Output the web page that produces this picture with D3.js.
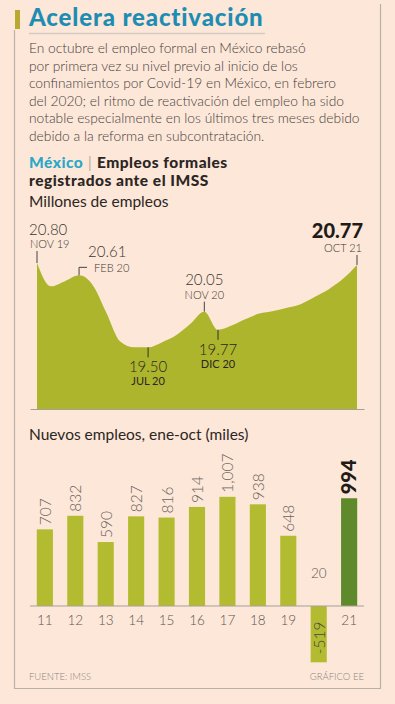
<!DOCTYPE html>
<html>
<head>
<meta charset="utf-8">
<script src="https://cdn.jsdelivr.net/npm/d3@7"></script>
<style>
  html, body { margin: 0; padding: 0; background: #fde7d8; }
  svg { display: block; font-family: Lato, 'Open Sans', sans-serif; }
</style>
</head>
<body>
<div id="chart"></div>
<script>
// empleo formal, millones (nov 2019 - oct 2021)
const months = ['2019-11', '2019-12', '2020-01', '2020-02', '2020-03', '2020-04', '2020-05', '2020-06',
  '2020-07', '2020-08', '2020-09', '2020-10', '2020-11', '2020-12', '2021-01', '2021-02', '2021-03',
  '2021-04', '2021-05', '2021-06', '2021-07', '2021-08', '2021-09', '2021-10']
const employment = [20.80, 20.44, 20.52, 20.61, 20.47, 20.03, 19.59, 19.50, 19.50, 19.58, 19.69, 19.86,
  20.05, 19.77, 19.84, 19.94, 20.02, 20.06, 20.11, 20.17, 20.28, 20.40, 20.56, 20.77]

// puntos marcados en la grafica
const markMonths = ['2019-11', '2020-02', '2020-07', '2020-11', '2020-12', '2021-10']
const markLabels = ['NOV 19', 'FEB 20', 'JUL 20', 'NOV 20', 'DIC 20', 'OCT 21']

// nuevos empleos ene-oct (miles)
const years = ['11', '12', '13', '14', '15', '16', '17', '18', '19', '20', '21']
const newJobs = [707, 832, 590, 827, 816, 914, 1007, 938, 648, -519, 994]
const jobLabels = ['707', '832', '590', '827', '816', '914', '1,007', '938', '648', '-519', '994']

const paragraph = [
  'En octubre el empleo formal en México rebasó',
  'por primera vez su nivel previo al inicio de los',
  'confinamientos por Covid-19 en México, en febrero',
  'del 2020; el ritmo de reactivación del empleo ha sido',
  'notable especialmente en los últimos tres meses debido',
  'debido a la reforma en subcontratación.'
]

const width = 395
const height = 704
const light = '#3a3633'
const grey = '#8c8580'

const svg = d3.select('#chart')
  .append('svg')
  .attr('width', width)
  .attr('height', height)

svg.append('rect')
  .attr('width', width)
  .attr('height', height)
  .attr('fill', '#fde7d8')

// marco
svg.append('path')
  .attr('d', 'M14.5,30 V688.5 H380.5 V4')
  .attr('fill', 'none')
  .attr('stroke', '#b9b0a8')
  .attr('stroke-width', 1.2)

svg.append('rect')
  .attr('x', 15).attr('y', 10)
  .attr('width', 5).attr('height', 19)
  .attr('fill', '#b9a933')

// titulo
svg.append('text')
  .text('Acelera reactivación')
  .attr('x', 29).attr('y', 26)
  .attr('fill', '#1d8db3')
  .style('font-size', '24px')
  .style('font-weight', 900)
  .style('letter-spacing', '0.85px')

svg.append('line')
  .attr('x1', 29).attr('x2', 265)
  .attr('y1', 33.5).attr('y2', 33.5)
  .attr('stroke', '#d4cbc4')
  .attr('stroke-width', 1.5)

svg.append('g')
  .selectAll('text')
  .data(paragraph)
  .join('text')
  .text(d => d)
  .attr('x', 29)
  .attr('y', (d, i) => 53 + i * 17.5)
  .attr('fill', '#45403c')
  .style('font-size', '13.8px')
  .style('font-weight', 300)

// subtitulo
const sub = svg.append('text')
  .attr('x', 29).attr('y', 168)
  .style('font-size', '15.5px')
  .style('font-weight', 900)
  .style('letter-spacing', '0.5px')
sub.append('tspan').text('México').attr('fill', '#2aa8c8')
sub.append('tspan').text(' | ').attr('fill', '#777').style('font-weight', 300)
sub.append('tspan').text('Empleos formales').attr('fill', '#2b2623')

svg.append('text')
  .text('registrados ante el IMSS')
  .attr('x', 29).attr('y', 186)
  .attr('fill', '#2b2623')
  .style('font-size', '15.5px')
  .style('font-weight', 900)
  .style('letter-spacing', '0.5px')

svg.append('text')
  .text('Millones de empleos')
  .attr('x', 29).attr('y', 207)
  .attr('fill', '#2b2623')
  .style('font-size', '15.5px')
  .style('font-weight', 400)

// grafica de area
const parseMonth = d3.utcParse('%Y-%m')
const dates = months.map(parseMonth)

const x = d3.scaleUtc()
  .domain(d3.extent(dates))
  .range([37, 357])

const y = d3.scaleLinear()
  .domain([18.55, 20.80])
  .range([409, 263])

const area = d3.area()
  .x((d, i) => x(dates[i]))
  .y0(y(18.55))
  .y1(d => y(d))
  .curve(d3.curveMonotoneX)

svg.append('path')
  .datum(employment)
  .attr('d', area)
  .attr('fill', '#adb52d')

const areaAxis = svg.append('g')
  .attr('transform', `translate(0, ${y(18.55)})`)
  .call(d3.axisBottom(d3.scaleLinear().range([30, 364])).ticks(0).tickSizeOuter(0))
areaAxis.select('.domain').attr('stroke', '#a8a098').attr('stroke-width', 1.2)

// anotaciones
const marks = markMonths.map((m, i) => {
  const idx = months.indexOf(m)
  return { date: dates[idx], value: employment[idx], label: markLabels[i] }
})

const mk = svg.append('g').attr('class', 'marks')
marks.forEach((d, i) => {
  const px = x(d.date)
  const py = y(d.value)
  const val = d3.format('.2f')(d.value)
  if (i === 0) {
    mk.append('line').attr('x1', px).attr('x2', px).attr('y1', py - 12).attr('y2', py).attr('stroke', '#444')
    mk.append('text').text(val).attr('x', px - 8).attr('y', py - 28).attr('fill', light)
      .style('font-size', '15px').style('font-weight', 300)
    mk.append('text').text(d.label).attr('x', px - 7).attr('y', py - 15).attr('fill', light)
      .style('font-size', '11px').style('font-weight', 300)
  } else if (i === 1) {
    mk.append('path').attr('d', `M${px},${py} V${py - 8} H${px + 8}`).attr('fill', 'none').attr('stroke', '#444')
    mk.append('text').text(val).attr('x', px + 9).attr('y', py - 18).attr('fill', light)
      .style('font-size', '15px').style('font-weight', 300)
    mk.append('text').text(d.label).attr('x', px + 15).attr('y', py - 3.5).attr('fill', light)
      .style('font-size', '11px').style('font-weight', 300)
  } else if (i === 2 || i === 4) {
    mk.append('line').attr('x1', px).attr('x2', px).attr('y1', py).attr('y2', py + 10).attr('stroke', '#333')
    mk.append('text').text(val).attr('x', px).attr('y', py + 25).attr('text-anchor', 'middle')
      .attr('fill', '#2a2623').style('font-size', '15px').style('font-weight', 300)
    mk.append('text').text(d.label).attr('x', px).attr('y', py + 38).attr('text-anchor', 'middle')
      .attr('fill', '#2a2623').style('font-size', '11px').style('font-weight', 400)
  } else if (i === 3) {
    mk.append('line').attr('x1', px).attr('x2', px).attr('y1', py - 10).attr('y2', py).attr('stroke', '#444')
    mk.append('text').text(val).attr('x', px).attr('y', py - 27).attr('text-anchor', 'middle')
      .attr('fill', light).style('font-size', '15px').style('font-weight', 300)
    mk.append('text').text(d.label).attr('x', px).attr('y', py - 13).attr('text-anchor', 'middle')
      .attr('fill', light).style('font-size', '11px').style('font-weight', 300)
  } else {
    mk.append('line').attr('x1', px).attr('x2', px).attr('y1', py - 10).attr('y2', py).attr('stroke', '#444')
    mk.append('text').text(val).attr('x', px + 6).attr('y', py - 27).attr('text-anchor', 'end')
      .attr('fill', '#1f1b19').style('font-size', '20px').style('font-weight', 900)
    mk.append('text').text(d.label).attr('x', px + 5).attr('y', py - 13).attr('text-anchor', 'end')
      .attr('fill', light).style('font-size', '11px').style('font-weight', 300)
  }
})

// grafica de barras
svg.append('text')
  .text('Nuevos empleos, ene-oct (miles)')
  .attr('x', 29).attr('y', 440)
  .attr('fill', '#2b2623')
  .style('font-size', '15.5px')
  .style('font-weight', 400)

const bx = d3.scaleBand()
  .domain(years)
  .range([29.5, 364.5])
  .paddingInner(0.47)
  .paddingOuter(0.24)

const by = d3.scaleLinear()
  .domain([-520, 1010])
  .range([662.4, 496.5])

svg.append('g')
  .selectAll('rect')
  .data(newJobs)
  .join('rect')
  .attr('x', (d, i) => bx(years[i]))
  .attr('width', bx.bandwidth())
  .attr('y', d => by(Math.max(d, 0)))
  .attr('height', d => Math.abs(by(d) - by(0)))
  .attr('fill', (d, i) => i === years.length - 1 ? '#5e8a2c' : '#b3bc30')

const barAxis = svg.append('g')
  .attr('transform', `translate(0, ${by(0)})`)
  .call(d3.axisBottom(bx).tickSize(0).tickPadding(8))
barAxis.select('.domain').attr('stroke', '#a8a098').attr('stroke-width', 1.2)
  .attr('d', 'M30,0H364')
barAxis.selectAll('text')
  .attr('fill', '#5b5551')
  .attr('dy', (d, i) => newJobs[i] < 0 ? '-1.55em' : '0.71em')
  .attr('y', (d, i) => newJobs[i] < 0 ? -7 : 9)
  .style('font-family', 'Lato, sans-serif')
  .style('font-size', '13.5px')
  .style('font-weight', 300)

svg.append('g')
  .selectAll('text')
  .data(newJobs)
  .join('text')
  .text((d, i) => jobLabels[i])
  .attr('transform', (d, i) => {
    const cx = bx(years[i]) + bx.bandwidth() / 2
    const last = i === years.length - 1
    const yy = d < 0 ? by(d) - 8 : by(d) - 4
    return `translate(${cx + (last ? 7 : 6)}, ${yy}) rotate(-90)`
  })
  .attr('fill', (d, i) => i === years.length - 1 ? '#1f1b19' : (d < 0 ? '#4a4540' : '#6a635e'))
  .style('font-size', (d, i) => i === years.length - 1 ? '20px' : '15.5px')
  .style('font-weight', (d, i) => i === years.length - 1 ? 900 : 300)

// pie
svg.append('text')
  .text('FUENTE: IMSS')
  .attr('x', 29).attr('y', 680)
  .attr('fill', grey)
  .style('font-size', '9.5px')
  .style('font-weight', 300)

svg.append('text')
  .text('GRÁFICO EE')
  .attr('x', 364).attr('y', 680)
  .attr('text-anchor', 'end')
  .attr('fill', grey)
  .style('font-size', '9.5px')
  .style('font-weight', 300)
</script>
</body>
</html>
